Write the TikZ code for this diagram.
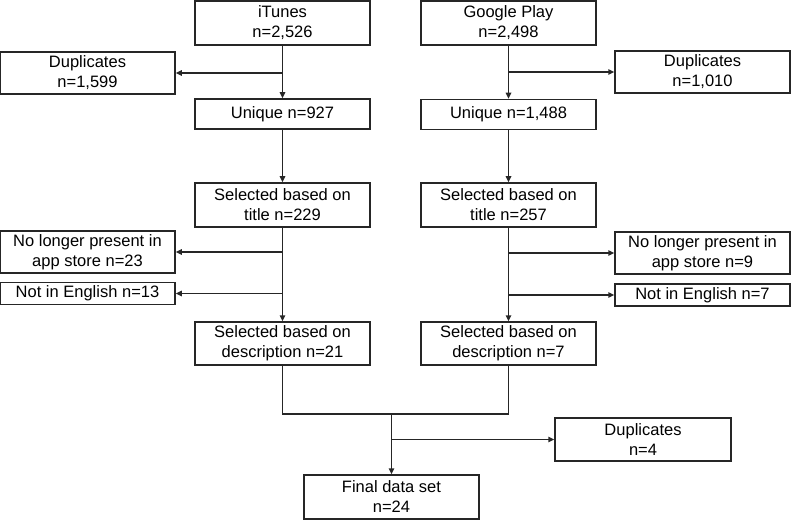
\documentclass[tikz,border=0pt]{standalone}
\usepackage{fontspec}
\setmainfont{Liberation Sans}
\usetikzlibrary{arrows.meta}
\begin{document}
\begin{tikzpicture}[x=1pt,y=-1pt,
  box/.style={draw=black!85,line width=1.5pt,fill=white,inner sep=0pt,align=center,
    font=\fontsize{16.5}{20}\selectfont,minimum width=175pt},
  arr/.style={draw=black!85,line width=1.5pt,-{Triangle[length=6pt,width=5.5pt]}},
  ln/.style={draw=black!85,line width=1.5pt}]
\useasboundingbox (0,0) rectangle (792,521);
\node[box,minimum height=44pt] (it) at (282.5,23) {iTunes\\n=2,526};
\node[box,minimum height=44pt] (gp) at (508.5,23) {Google Play\\n=2,498};
\node[box,minimum height=42pt] (dl) at (87.5,73) {Duplicates\\n=1,599};
\node[box,minimum height=42pt] (dr) at (702.5,72) {Duplicates\\n=1,010};
\node[box,minimum height=30pt] (ul) at (282.5,114) {Unique n=927};
\node[box,minimum height=30pt] (ur) at (508.5,114.5) {Unique n=1,488};
\node[box,minimum height=44pt] (tl) at (282.5,205) {Selected based on\\title n=229};
\node[box,minimum height=44pt] (tr) at (508.5,205) {Selected based on\\title n=257};
\node[box,minimum height=42pt] (nl) at (87.5,252) {No longer present in\\app store n=23};
\node[box,minimum height=42pt] (nr) at (702.5,253) {No longer present in\\app store n=9};
\node[box,minimum height=22pt] (el) at (87.5,293.5) {Not in English n=13};
\node[box,minimum height=22pt] (er) at (702.5,295) {Not in English n=7};
\node[box,minimum height=43pt] (sl) at (282.5,343.5) {Selected based on\\description n=21};
\node[box,minimum height=43pt] (sr) at (508.5,343.5) {Selected based on\\description n=7};
\node[box,minimum height=43pt,minimum width=176pt] (d4) at (643,439.5) {Duplicates\\n=4};
\node[box,minimum height=44pt] (fin) at (391.5,497) {Final data set\\n=24};
% left column
\draw[arr] (it) -- (ul);
\coordinate (bl1) at (it.south |- dl.east);
\draw[arr] (bl1) -- (dl);
\draw[arr] (ul) -- (tl);
\draw[arr] (tl) -- (sl);
\coordinate (bl2) at (tl.south |- nl.east);
\draw[arr] (bl2) -- (nl);
\coordinate (bl3) at (tl.south |- el.east);
\draw[arr] (bl3) -- (el);
% right column
\draw[arr] (gp) -- (ur);
\coordinate (br1) at (gp.south |- dr.west);
\draw[arr] (br1) -- (dr);
\draw[arr] (ur) -- (tr);
\draw[arr] (tr) -- (sr);
\coordinate (br2) at (tr.south |- nr.west);
\draw[arr] (br2) -- (nr);
\coordinate (br3) at (tr.south |- er.west);
\draw[arr] (br3) -- (er);
% merge
\coordinate (ml) at (282.5,414);
\coordinate (mr) at (508.5,414);
\coordinate (mc) at (fin.north |- ml);
\draw[ln] (sl.south) -- (ml) -- (mr) -- (sr.south);
\draw[arr] (mc) -- (fin);
\coordinate (bm) at (fin.north |- d4.west);
\draw[arr] (bm) -- (d4);
\end{tikzpicture}
\end{document}
